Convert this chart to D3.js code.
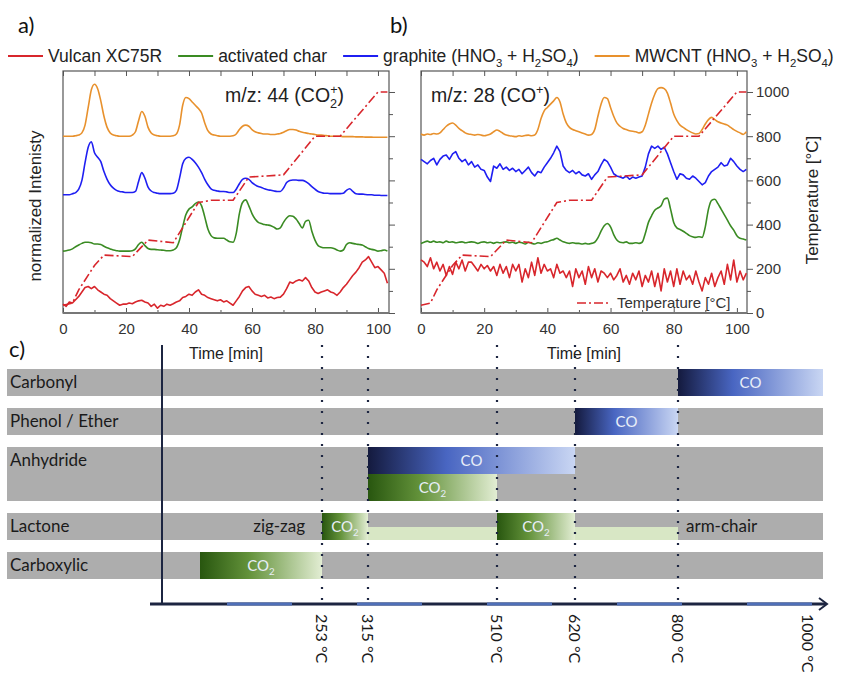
<html>
  <head>
    <script src="https://cdnjs.cloudflare.com/ajax/libs/d3/7.8.5/d3.min.js"></script>
    <style>
    body { margin: 0; background: white; }
    svg { font-family: "Liberation Sans", Arial, sans-serif; }
    .axis text { fill: #333; font-size: 15px; }
    .axis line { stroke: #555; }
    .scheme text { font-family: Lato, "Open Sans", sans-serif; }
    </style>
  </head>
  <body>
    <svg id="figure" width="854" height="675"></svg>
    <script>
    // one sample per minute, 0..103 min
    var minutes = d3.range(0, 104);

    // a) m/z 44 (CO2+)
    var aVulcan = [0.40,0.30,0.50,0.45,0.60,0.75,0.95,1.15,1.20,1.10,
      1.20,1.05,0.95,0.85,0.80,0.65,0.55,0.45,0.35,0.40,
      0.40,0.45,0.42,0.50,0.55,0.58,0.50,0.45,0.30,0.40,
      0.22,0.35,0.30,0.40,0.35,0.42,0.50,0.55,0.70,0.75,
      0.85,0.80,0.95,1.05,0.85,0.80,0.70,0.65,0.60,0.55,
      0.60,0.50,0.55,0.45,0.35,0.55,0.75,1.00,1.15,1.20,
      1.00,0.85,0.80,0.75,0.80,0.68,0.72,0.65,0.70,0.72,
      0.85,1.10,1.40,1.35,1.45,1.50,1.45,1.60,1.45,1.15,
      0.95,0.88,0.95,1.00,1.05,0.95,0.90,0.80,0.95,1.15,
      1.30,1.50,1.70,1.85,2.05,2.30,2.40,2.55,2.30,2.05,
      2.10,1.95,1.80,1.35];
    var aChar = [2.80,2.82,2.85,2.90,3.00,3.08,3.15,3.20,3.20,3.18,
      3.12,3.12,3.10,3.02,2.95,2.90,2.85,2.82,2.80,2.80,
      2.80,2.80,2.82,2.90,3.10,3.20,3.05,2.92,2.88,2.88,
      2.86,2.85,2.84,2.82,2.82,2.85,2.95,3.30,3.90,4.45,
      4.70,4.80,4.95,5.02,4.85,4.35,3.80,3.50,3.40,3.38,
      3.38,3.38,3.30,3.22,3.20,3.60,4.50,5.00,5.12,4.85,
      4.50,4.25,4.10,4.05,4.00,3.98,3.95,3.88,3.80,3.85,
      4.10,4.30,4.40,4.38,4.25,4.05,3.85,4.15,4.20,3.70,
      3.30,3.05,2.98,2.95,2.95,2.95,2.92,2.85,2.80,2.85,
      3.10,3.18,3.15,3.12,3.10,3.08,3.00,2.92,2.88,2.85,
      2.80,2.82,2.85,2.80];
    var aGraphite = [5.35,5.35,5.35,5.40,5.45,5.60,6.00,6.80,7.50,7.75,
      7.25,7.05,6.85,6.40,6.05,5.80,5.65,5.55,5.50,5.48,
      5.45,5.45,5.45,5.50,5.95,6.35,6.10,5.70,5.52,5.45,
      5.42,5.40,5.40,5.40,5.40,5.42,5.55,6.10,6.75,7.00,
      7.05,6.95,6.80,6.60,6.35,6.05,5.80,5.62,5.55,5.52,
      5.50,5.50,5.48,5.45,5.45,5.60,5.85,6.05,6.10,6.05,
      5.90,5.80,5.72,5.68,5.62,5.58,5.55,5.52,5.50,5.50,
      5.65,5.90,6.00,6.02,6.02,6.00,6.00,5.95,5.85,5.72,
      5.60,5.50,5.45,5.42,5.42,5.40,5.40,5.40,5.40,5.42,
      5.55,5.62,5.50,5.40,5.38,5.38,5.36,5.35,5.35,5.33,
      5.33,5.32,5.32,5.32];
    var aMwcnt = [8.00,8.00,8.00,8.00,8.02,8.05,8.15,8.50,9.30,10.10,
      10.35,10.15,9.60,8.90,8.40,8.15,8.05,8.02,8.00,8.00,
      8.00,8.00,8.05,8.20,8.70,9.12,8.90,8.40,8.15,8.05,
      8.02,8.00,8.00,8.00,8.00,8.02,8.10,8.50,9.40,9.75,
      9.70,9.55,9.40,9.25,9.05,8.60,8.25,8.10,8.05,8.02,
      8.00,8.00,8.00,8.00,8.02,8.10,8.30,8.45,8.50,8.45,
      8.30,8.20,8.15,8.12,8.10,8.10,8.08,8.08,8.10,8.12,
      8.18,8.25,8.30,8.30,8.28,8.22,8.18,8.15,8.12,8.10,
      8.08,8.05,8.05,8.03,8.02,8.00,8.00,8.00,8.00,7.98,
      7.98,7.98,7.98,7.97,7.97,7.97,7.96,7.96,7.96,7.95,
      7.95,7.95,7.95,7.95];

    // b) m/z 28 (CO+)
    var bVulcan = [2.40,2.30,2.10,2.50,2.00,2.30,1.90,2.20,1.70,2.10,
      1.75,2.30,2.00,2.40,1.90,2.30,2.30,2.10,1.90,2.20,
      2.00,2.15,1.90,2.10,1.70,2.20,1.80,2.10,1.60,2.20,
      1.90,2.20,1.40,2.00,1.60,2.30,1.70,2.50,1.80,2.20,
      1.90,2.00,1.60,2.20,1.80,1.90,1.60,1.90,1.20,2.00,
      1.60,1.90,1.30,2.10,1.60,2.00,1.40,1.90,1.80,1.60,
      1.80,1.50,1.70,2.00,1.40,1.70,1.30,1.80,1.50,1.90,
      1.20,1.70,1.40,1.90,1.20,1.80,1.00,2.00,1.40,1.90,
      1.20,2.00,1.30,1.90,1.50,1.70,1.30,1.90,1.40,1.00,
      1.60,1.30,1.80,1.20,1.60,1.90,1.30,2.20,1.50,2.40,
      1.40,1.90,1.50,1.80];
    var bChar = [3.15,3.20,3.25,3.20,3.25,3.20,3.22,3.18,3.25,3.20,
      3.22,3.18,3.20,3.22,3.18,3.20,3.22,3.20,3.15,3.20,
      3.22,3.18,3.20,3.15,3.20,3.18,3.20,3.22,3.18,3.20,
      3.15,3.20,3.18,3.12,3.20,3.15,3.12,3.18,3.15,3.20,
      3.22,3.28,3.32,3.38,3.30,3.22,3.18,3.15,3.18,3.15,
      3.15,3.12,3.15,3.12,3.15,3.20,3.40,3.70,3.95,4.05,
      3.90,3.55,3.30,3.20,3.18,3.22,3.15,3.15,3.18,3.15,
      3.20,3.60,4.10,4.40,4.65,4.75,4.85,5.15,5.20,4.70,
      4.10,3.85,3.78,3.70,3.60,3.50,3.45,3.42,3.45,3.42,
      3.90,4.70,5.10,5.15,4.95,4.70,4.45,4.20,3.95,3.75,
      3.50,3.38,3.35,3.30];
    var bGraphite = [6.95,6.85,6.75,6.90,7.00,6.70,6.95,7.10,7.15,6.95,
      7.20,7.30,7.00,6.85,6.95,6.70,6.85,6.60,6.70,6.50,
      6.45,6.15,5.95,6.65,6.55,6.75,6.50,6.60,6.45,6.55,
      6.40,6.50,6.30,6.45,6.60,6.35,6.20,6.40,6.35,6.60,
      6.80,7.00,7.25,7.55,7.30,6.65,6.45,6.35,6.45,6.30,
      6.40,6.25,6.20,6.30,6.05,6.25,6.40,6.70,6.95,6.85,
      6.60,6.30,6.20,6.15,6.10,6.20,6.05,6.15,6.10,6.15,
      6.20,6.60,7.20,7.55,7.45,7.55,7.40,7.50,7.20,6.80,
      6.40,6.05,6.30,6.25,6.10,6.05,6.20,6.10,5.95,5.80,
      5.90,6.20,6.40,6.50,6.60,6.80,6.65,6.70,7.00,6.85,
      6.65,6.50,6.40,6.50];
    var bMwcnt = [8.10,8.05,8.10,8.08,8.12,8.10,8.15,8.30,8.45,8.55,
      8.60,8.50,8.35,8.25,8.15,8.10,8.08,8.05,8.08,8.05,
      8.02,8.05,8.10,8.20,8.28,8.22,8.12,8.05,8.02,8.00,
      7.98,8.02,8.00,8.03,8.05,8.02,8.05,8.30,8.80,9.15,
      9.30,9.45,9.60,9.75,9.55,9.00,8.60,8.40,8.30,8.25,
      8.20,8.15,8.10,8.05,8.08,8.30,8.90,9.45,9.75,9.70,
      9.30,8.90,8.60,8.45,8.35,8.30,8.25,8.22,8.20,8.15,
      8.20,8.50,9.00,9.50,9.90,10.15,10.20,10.15,9.95,9.50,
      9.00,8.70,8.50,8.40,8.30,8.22,8.15,8.10,8.12,8.30,
      8.55,8.75,8.85,8.75,8.65,8.60,8.55,8.50,8.40,8.30,
      8.22,8.15,8.08,8.20];

    // heating programme (same for both runs)
    var tempTime  = [0, 3, 5, 10, 13, 22, 27, 35, 43, 47, 54, 59, 70, 80, 88, 100, 103];
    var tempValue = [35, 45, 105, 215, 262, 255, 330, 318, 500, 510, 510, 615, 625, 800, 800, 1000, 1000];

    var legendNames = ['Vulcan XC75R', 'activated char', 'graphite (HNO_3 + H_2SO_4)', 'MWCNT (HNO_3 + H_2SO_4)'];
    var colors = ['#d8262c', '#3a8b23', '#1f1ff2', '#e8912d'];
    var timeTicks = [0, 20, 40, 60, 80, 100];
    var minorTimeTicks = [10, 30, 50, 70, 90];
    var tempTicks = [0, 200, 400, 600, 800, 1000];
    var minorTempTicks = [100, 300, 500, 700, 900];

    // c) scheme
    var groupNames = ['Carbonyl', 'Phenol / Ether', 'Anhydride', 'Lactone', 'Carboxylic'];
    var groupLanes = [1, 1, 2, 1, 1];
    var releaseGroup = [0, 1, 2, 2, 3, 3, 4];
    var releaseLane = [0, 0, 0, 1, 0, 0, 0];
    var releaseGas = ['CO', 'CO', 'CO', 'CO_2', 'CO_2', 'CO_2', 'CO_2'];
    var releaseFrom = [800, 620, 315, 315, 253, 510, 150];
    var releaseTo = [1000, 800, 620, 510, 315, 620, 253];
    var lactoneBand = [315, 800];
    var markTemps = [253, 315, 510, 620, 800, 1000];

    var svg = d3.select('#figure');
    var plotTop = 71, plotBottom = 313;

    // text with _x subscripts and ^x superscripts
    function rich(text, str, size) {
      var parts = str.split(/([_^].)/).filter(function(p) { return p.length; });
      var shift = 0, prevSub = false;
      parts.forEach(function(p) {
        var t = text.append('tspan');
        if (p[0] === '_' || p[0] === '^') {
          var s = p[0] === '_' ? size * 0.3 : -size * 0.42;
          t.attr('dy', s - shift).style('font-size', (size * 0.65) + 'px').text(p[1]);
          if (p[0] === '^' && prevSub) t.attr('dx', -size * 0.36);
          prevSub = p[0] === '_';
          shift = s;
        } else {
          t.attr('dy', -shift).text(p);
          shift = 0;
          prevSub = false;
        }
      });
      return text;
    }

    function drawPanel(left, right, xMax, series, noisy, tag, showTemp) {
      var x = d3.scaleLinear().domain([0, xMax]).range([left, right]);
      var yT = d3.scaleLinear().domain([0, 1095]).range([plotBottom, plotTop]);
      var yI = d3.scaleLinear().domain([0, 10.95]).range([plotBottom, plotTop]);
      var g = svg.append('g');

      function noDomain(sel) { sel.select('.domain').remove(); }

      g.append('g').attr('class', 'axis')
        .attr('transform', 'translate(0,' + plotBottom + ')')
        .call(d3.axisBottom(x).tickValues(timeTicks).tickSize(-5).tickPadding(10))
        .call(noDomain);
      g.append('g').attr('class', 'axis')
        .attr('transform', 'translate(0,' + plotBottom + ')')
        .call(d3.axisBottom(x).tickValues(minorTimeTicks).tickSize(-3).tickFormat(''))
        .call(noDomain);
      g.append('g').attr('class', 'axis')
        .attr('transform', 'translate(0,' + plotTop + ')')
        .call(d3.axisBottom(x).tickValues(timeTicks.concat(minorTimeTicks)).tickSize(5).tickFormat(''))
        .call(noDomain);
      g.append('g').attr('class', 'axis')
        .attr('transform', 'translate(' + right + ',0)')
        .call(d3.axisRight(yT).tickValues(tempTicks).tickSize(6).tickPadding(3)
          .tickFormat(showTemp ? d3.format('d') : ''))
        .call(noDomain);
      g.append('g').attr('class', 'axis')
        .attr('transform', 'translate(' + right + ',0)')
        .call(d3.axisRight(yT).tickValues(minorTempTicks).tickSize(4).tickFormat(''))
        .call(noDomain);

      g.append('rect')
        .attr('x', left).attr('y', plotTop)
        .attr('width', right - left).attr('height', plotBottom - plotTop)
        .attr('fill', 'none').attr('stroke', '#555').attr('stroke-width', 1.2);
      g.append('line')
        .attr('x1', left).attr('x2', right).attr('y1', plotBottom).attr('y2', plotBottom)
        .attr('stroke', '#777').attr('stroke-width', 2);

      series.forEach(function(values, k) {
        var line = d3.line()
          .x(function(d, i) { return x(minutes[i]); })
          .y(function(d) { return yI(d); })
          .curve(noisy[k] ? d3.curveLinear : d3.curveMonotoneX);
        g.append('path')
          .attr('d', line(values))
          .attr('fill', 'none')
          .attr('stroke', colors[k])
          .attr('stroke-width', 1.6)
          .attr('stroke-linejoin', 'round');
      });

      var tempLine = d3.line()
        .x(function(d, i) { return x(tempTime[i]); })
        .y(function(d) { return yT(d); });
      g.append('path')
        .attr('d', tempLine(tempValue))
        .attr('fill', 'none')
        .attr('stroke', '#d8262c')
        .attr('stroke-width', 1.6)
        .attr('stroke-dasharray', '9,3,2,3');

      g.append('text')
        .attr('x', (left + right) / 2).attr('y', 359)
        .attr('text-anchor', 'middle')
        .style('font-size', '16px').attr('fill', '#222')
        .text('Time [min]');

      rich(g.append('text').attr('fill', '#222').style('font-size', '19.5px'), tag.text, 19.5)
        .attr('x', tag.x).attr('y', 102);

      return g;
    }

    drawPanel(63, 389, 103.5, [aVulcan, aChar, aGraphite, aMwcnt], [true, false, false, false],
      {text: 'm/z: 44 (CO_2^+)', x: 225}, false);
    var panelB = drawPanel(421, 747, 103.2, [bVulcan, bChar, bGraphite, bMwcnt], [true, false, true, false],
      {text: 'm/z: 28 (CO^+)', x: 431}, true);

    // temperature legend inside b
    panelB.append('line')
      .attr('x1', 577).attr('x2', 611).attr('y1', 303).attr('y2', 303)
      .attr('stroke', '#d8262c').attr('stroke-width', 1.6).attr('stroke-dasharray', '9,3,2,3');
    panelB.append('text')
      .attr('x', 617).attr('y', 303).attr('dy', '0.35em')
      .style('font-size', '15px').attr('fill', '#333')
      .text('Temperature [°C]');

    svg.append('text')
      .attr('transform', 'translate(812,200) rotate(-90)')
      .attr('text-anchor', 'middle').attr('dy', '0.35em')
      .style('font-size', '17px').attr('fill', '#222')
      .text('Temperature [°C]');
    svg.append('text')
      .attr('transform', 'translate(35,206) rotate(-90)')
      .attr('text-anchor', 'middle').attr('dy', '0.35em')
      .style('font-size', '17px').attr('fill', '#222')
      .text('normalized Intenisty');

    // legend
    var lx = 8;
    legendNames.forEach(function(name, k) {
      svg.append('line')
        .attr('x1', lx).attr('x2', lx + 35).attr('y1', 56).attr('y2', 56)
        .attr('stroke', colors[k]).attr('stroke-width', 1.8);
      var t = rich(svg.append('text').attr('fill', '#222').style('font-size', '17.5px'), name, 17.5)
        .attr('x', lx + 40).attr('y', 62);
      lx += 40 + t.node().getComputedTextLength() + 16;
    });

    // panel letters
    var letters = svg.append('g').attr('class', 'scheme');
    [['a)', 18, 33], ['b)', 390, 33], ['c)', 9, 357]].forEach(function(l) {
      letters.append('text').attr('x', l[1]).attr('y', l[2])
        .style('font-size', '22px').attr('fill', '#111').text(l[0]);
    });

    // ---- c) release scheme ----
    var defs = svg.append('defs');
    function gradient(id, stops) {
      var lg = defs.append('linearGradient').attr('id', id);
      stops.forEach(function(s) {
        lg.append('stop').attr('offset', s[0]).attr('stop-color', s[1]);
      });
    }
    gradient('blueGrad', [['0%', '#141a3e'], ['38%', '#4966c2'], ['100%', '#c9d6f3']]);
    gradient('greenGrad', [['0%', '#28560f'], ['40%', '#63923a'], ['100%', '#e2edd3']]);

    var xc = d3.scaleLinear()
      .domain([150, 253, 315, 510, 620, 800, 1000])
      .range([200, 322, 368, 497, 575, 678, 808]);
    var rowLeft = 7, rowRight = 823, laneH = 27, rowGap = 12;
    var rowTop = [];
    groupLanes.reduce(function(y, n) { rowTop.push(y); return y + n * laneH + rowGap; }, 369);

    var scheme = svg.append('g').attr('class', 'scheme');

    groupNames.forEach(function(name, i) {
      scheme.append('rect')
        .attr('x', rowLeft).attr('y', rowTop[i])
        .attr('width', rowRight - rowLeft).attr('height', groupLanes[i] * laneH)
        .attr('fill', '#adadad');
      scheme.append('text')
        .attr('x', 10).attr('y', rowTop[i] + laneH / 2).attr('dy', '0.35em')
        .style('font-size', '17px').attr('fill', '#1a1a1a')
        .text(name);
    });

    scheme.append('rect')
      .attr('x', xc(lactoneBand[0])).attr('y', rowTop[3] + 14)
      .attr('width', xc(lactoneBand[1]) - xc(lactoneBand[0])).attr('height', laneH - 14)
      .attr('fill', '#d8e7c5');

    releaseGas.forEach(function(gas, k) {
      var x0 = xc(releaseFrom[k]);
      var x1 = releaseTo[k] >= 1000 ? rowRight : xc(releaseTo[k]);
      var y0 = rowTop[releaseGroup[k]] + releaseLane[k] * laneH;
      scheme.append('rect')
        .attr('x', x0).attr('y', y0)
        .attr('width', x1 - x0).attr('height', laneH)
        .attr('fill', gas === 'CO' ? 'url(#blueGrad)' : 'url(#greenGrad)');
      rich(scheme.append('text')
        .attr('text-anchor', 'middle').attr('fill', '#e8eef8')
        .style('font-size', '15px'), gas, 15)
        .attr('x', (x0 + x1) / 2).attr('y', y0 + laneH / 2 + 5);
    });

    scheme.append('text')
      .attr('x', xc(253) - 17).attr('y', rowTop[3] + laneH / 2).attr('dy', '0.35em')
      .attr('text-anchor', 'end').style('font-size', '17px').attr('fill', '#1a1a1a')
      .text('zig-zag');
    scheme.append('text')
      .attr('x', xc(800) + 8).attr('y', rowTop[3] + laneH / 2).attr('dy', '0.35em')
      .style('font-size', '17px').attr('fill', '#1a1a1a')
      .text('arm-chair');

    // dotted temperature marks
    markTemps.filter(function(t) { return t < 1000; }).forEach(function(t) {
      scheme.append('line')
        .attr('x1', xc(t)).attr('x2', xc(t)).attr('y1', 345).attr('y2', 600)
        .attr('stroke', '#1c2541').attr('stroke-width', 2.2)
        .attr('stroke-dasharray', '2,9');
    });

    // axes of the scheme
    scheme.append('line')
      .attr('x1', 162).attr('x2', 162).attr('y1', 345).attr('y2', 605)
      .attr('stroke', '#1c2541').attr('stroke-width', 2);
    scheme.append('line')
      .attr('x1', 150).attr('x2', 826).attr('y1', 604).attr('y2', 604)
      .attr('stroke', '#1c2541').attr('stroke-width', 3);
    scheme.append('line')
      .attr('x1', 227).attr('x2', 821).attr('y1', 604).attr('y2', 604)
      .attr('stroke', '#4f6fb8').attr('stroke-width', 3)
      .attr('stroke-dasharray', '65,65');
    scheme.append('path')
      .attr('d', 'M819,598L827,604L819,610')
      .attr('fill', 'none').attr('stroke', '#1c2541').attr('stroke-width', 2);

    markTemps.forEach(function(t) {
      scheme.append('text')
        .attr('transform', 'translate(' + xc(t) + ',614) rotate(90)')
        .attr('dy', '0.35em')
        .style('font-size', '16px').attr('fill', '#1a1a1a')
        .text(t + ' °C');
    });
    </script>
  </body>
</html>
